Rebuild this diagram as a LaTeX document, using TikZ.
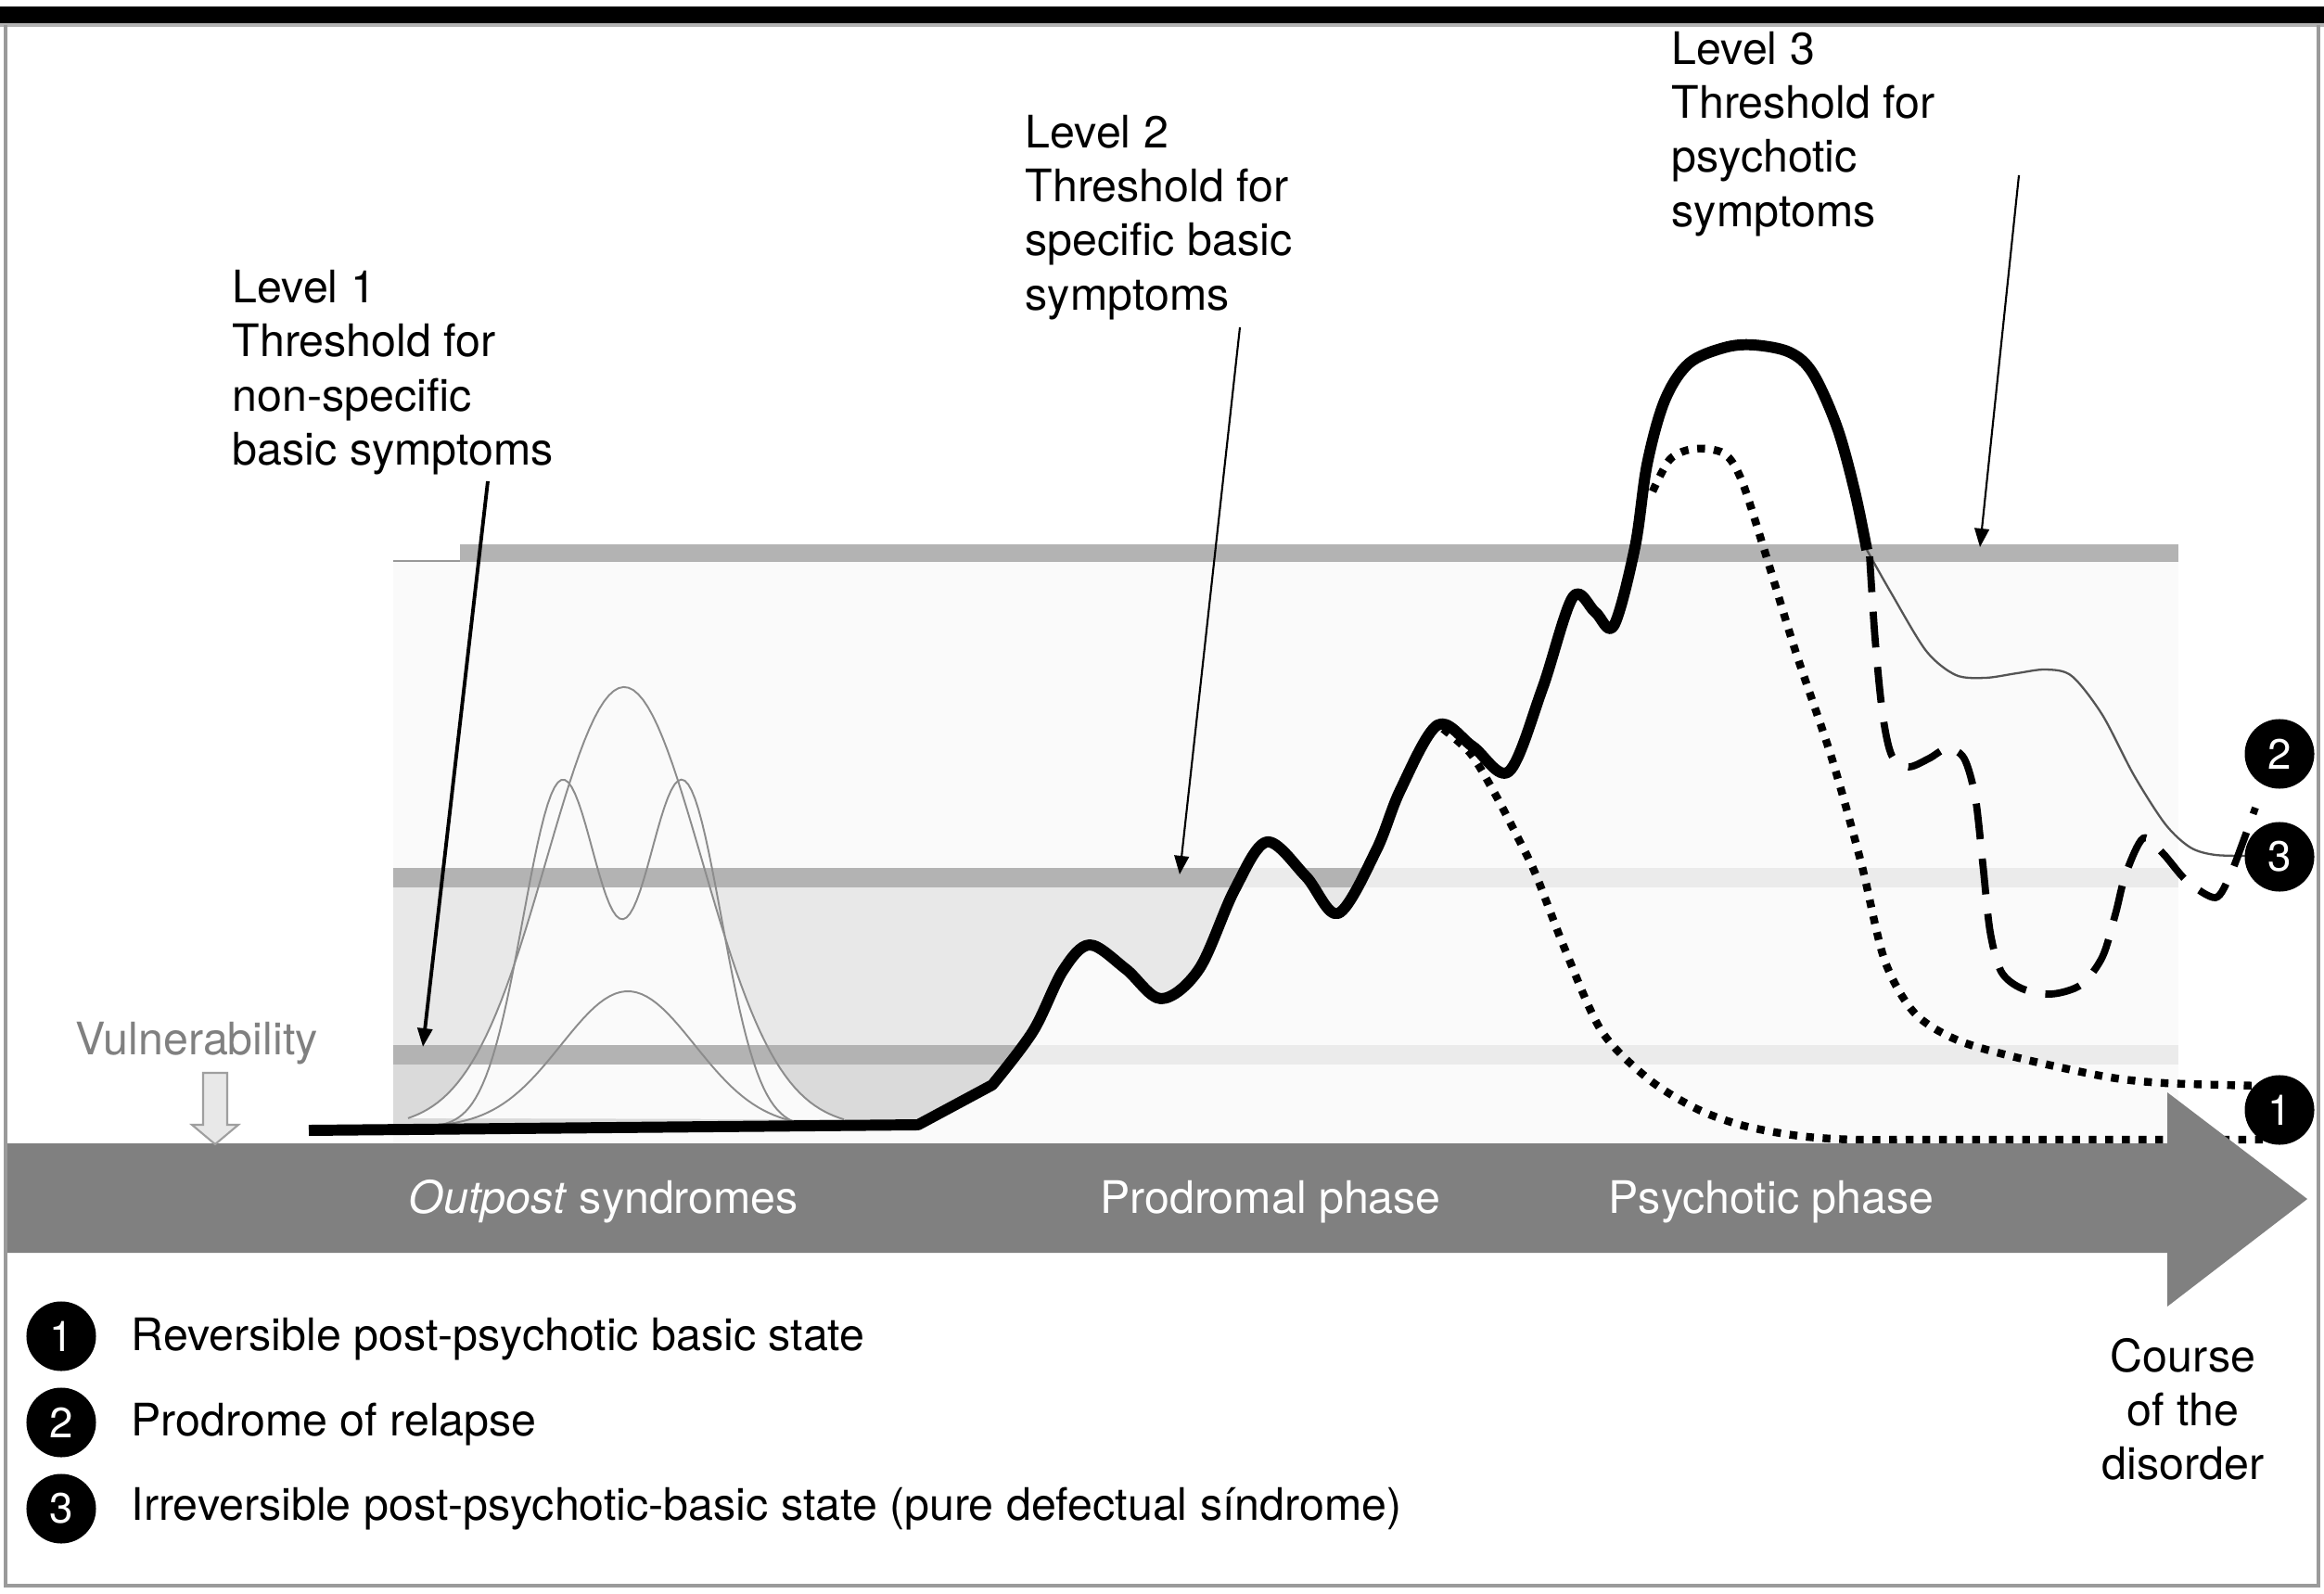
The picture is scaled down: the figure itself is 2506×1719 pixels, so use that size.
\documentclass[tikz,border=0pt]{standalone}
\usepackage{fontspec}
\setmainfont{TeX Gyre Heros}
\usetikzlibrary{arrows.meta}
\definecolor{bandDark}{HTML}{B3B3B3}
\definecolor{bandLight}{HTML}{EBEBEB}
\definecolor{zoneA}{HTML}{E8E8E8}
\definecolor{zoneB}{HTML}{DADADA}
\definecolor{paleZone}{HTML}{FAFAFA}
\definecolor{arrowGray}{HTML}{808080}
\definecolor{frameGray}{HTML}{9A9A9A}
\definecolor{bellGray}{HTML}{8C8C8C}
\definecolor{thinGray}{HTML}{555555}
\begin{document}
\begin{tikzpicture}[x=0.01cm, y=-0.01cm,
  lab/.style={font=\fontsize{13.75pt}{16.5pt}\selectfont, inner sep=0pt},
  phase/.style={lab, text=white},
  numdisc/.style={circle, fill=black, text=white, inner sep=0pt, minimum size=0.75cm, font=\fontsize{13pt}{15pt}\selectfont},
  annarrow/.style={-{Triangle[length=5.7pt,width=4.5pt]}, line width=0.6pt},
  mainline/.style={line width=3.4pt, line join=round},
  dotline/.style={line width=2.4pt, dash pattern=on 2.4pt off 2.7pt},
  dashline/.style={line width=2.2pt, dash pattern=on 11pt off 6pt},
  remline/.style={line width=0.65pt, color=thinGray},
  bell/.style={draw=bellGray, line width=0.55pt}]
\useasboundingbox (0,0) rectangle (2506,1719);
\fill[white] (0,0) rectangle (2506,1719);
\fill[black] (0,7) rectangle (2506,25);
\draw[gray!60, line width=0.9pt] (0,27) -- (2506,27);
\draw[frameGray, line width=0.9pt] (6,27) -- (6,1710) -- (2500,1710) -- (2500,27);

% background zones
\fill[paleZone] (424,605) rectangle (2349,1233);
\fill[bandLight] (424,936) rectangle (2349,957);
\fill[bandLight] (424,1127) rectangle (2349,1148);
\begin{scope}
\clip (330,1240) -- (330,1219) -- (990,1213) -- plot[smooth,tension=0.55] coordinates {(1070,1170) (1114,1112) (1146,1047) (1175,1019) (1214,1045) (1252,1077) (1293,1045) (1331,960) (1366,908) (1408,945) (1443,985) (1484,917) (1510,852) (1550,782) (1588,805) (1627,832) (1663,743) (1696,644) (1720,660) (1740,675) (1763,590) (1776,501) (1795,432) (1821,392) (1859,375) (1891,372) (1930,380) (1955,403) (1981,461) (2000,530) (2013,593)} -- (2013,300) -- (330,300) -- cycle;
\fill[zoneA] (424,957) rectangle (2349,1127);
\fill[zoneB] (424,1148) rectangle (2349,1233);
\fill[paleZone] plot[domain=440:910,samples=90] (\x,{1216-475*exp(-0.5*((\x-673)/84)^2)}) -- cycle;
\fill[bandDark] (424,936) rectangle (2349,957);
\fill[bandDark] (424,1127) rectangle (2349,1148);
\end{scope}
\fill[bandDark] (496,587) rectangle (2349,606);
\draw[bandDark!85!black, line width=0.5pt] (424,605) -- (496,605);

% dotted return to baseline (under the big arrow)
\draw[dotline] plot[smooth,tension=0.5] coordinates {(1556,786) (1586,813) (1612,856) (1635,900) (1656,943) (1688,1025) (1727,1112) (1778,1164) (1830,1196) (1880,1214) (1940,1225) (2000,1229) (2100,1229) (2440,1229)};

% big arrow
\fill[arrowGray] (8,1233) -- (2337,1233) -- (2337,1178) -- (2488,1293) -- (2337,1409) -- (2337,1351) -- (8,1351) -- cycle;

% bell curves
\draw[bell] plot[domain=440:910, samples=90] (\x,{1216-475*exp(-0.5*((\x-673)/84)^2)});
\draw[bell] plot[domain=450:890, samples=120] (\x,{1216-372*(exp(-0.5*((\x-606)/42)^2)+exp(-0.5*((\x-736)/42)^2))});
\draw[bell] plot[domain=480:875, samples=70] (\x,{1216-147*exp(-0.5*((\x-677)/72)^2)});

% dotted from the psychotic peak
\draw[dotline] plot[smooth,tension=0.5] coordinates {(1782,530) (1801,495) (1827,484) (1859,489) (1878,518) (1904,598) (1936,702) (1975,817) (2007,931) (2032,1035) (2064,1092) (2109,1121) (2173,1140) (2270,1161) (2334,1168) (2440,1171)};

% thin remainder line
\draw[remline] plot[smooth,tension=0.5] coordinates {(2013,593) (2039,639) (2077,702) (2109,728) (2141,731) (2175,726) (2206,722) (2234,729) (2267,771) (2301,836) (2335,889) (2362,914) (2389,922) (2430,923)};

% dashed relapse line
\draw[dashline] plot[smooth,tension=0.5] coordinates {(2016,600) (2022,690) (2030,770) (2040,815) (2058,827) (2080,818) (2100,807) (2118,818) (2130,860) (2138,931) (2146,1005) (2158,1048) (2180,1066) (2212,1072) (2244,1062) (2267,1032) (2281,986) (2292,943) (2311,904) (2332,920) (2358,950) (2389,968) (2405,943) (2419,907) (2432,871)};

% main course line
\draw[mainline] (333,1219) -- (990,1213) -- plot[smooth,tension=0.55] coordinates {(1070,1170) (1114,1112) (1146,1047) (1175,1019) (1214,1045) (1252,1077) (1293,1045) (1331,960) (1366,908) (1408,945) (1443,985) (1484,917) (1510,852) (1550,782) (1588,805) (1627,832) (1663,743) (1696,644) (1720,660) (1740,675) (1763,590) (1776,501) (1795,432) (1821,392) (1859,375) (1891,372) (1930,380) (1955,403) (1981,461) (2000,530) (2013,593)};

% end discs
\node[numdisc] (c2) at (2458,813) {2};
\node[numdisc] (c3) at (2458,924) {3};
\node[numdisc] (c1) at (2458,1197) {1};

% phase labels
\node[phase, anchor=base] (ph1) at (651,1308) {\textit{Outpost} syndromes};
\node[phase, anchor=base] (ph2) at (1370,1308) {Prodromal phase};
\node[phase, anchor=base] (ph3) at (1910,1308) {Psychotic phase};

% vulnerability
\node[lab, text=arrowGray, anchor=base] (vul) at (212,1137) {Vulnerability};
\draw[fill=gray!18, draw=gray!75, line width=0.6pt] (219,1157) -- (245,1157) -- (245,1213) -- (257,1213) -- (232,1234) -- (207,1213) -- (219,1213) -- cycle;

% level labels
\node[lab, anchor=north west, align=left] (lv1) at (250,291) {Level 1\\Threshold for\\non-specific\\basic symptoms};
\node[lab, anchor=north west, align=left] (lv2) at (1105,124) {Level 2\\Threshold for\\specific basic\\symptoms};
\node[lab, anchor=north west, align=left] (lv3) at (1802,34) {Level 3\\Threshold for\\psychotic\\symptoms};
\coordinate (a1s) at (526,519);
\coordinate (a1e) at (456,1129);
\coordinate (a2s) at (1337,353);
\coordinate (a2e) at (1272,943);
\coordinate (a3s) at (2177,189);
\coordinate (a3e) at (2135,590);
\draw[annarrow, line width=1.1pt] (a1s) -- (a1e);
\draw[annarrow] (a2s) -- (a2e);
\draw[annarrow] (a3s) -- (a3e);

% course label
\node[lab, anchor=north, align=center] (course) at (2354,1443) {Course\\of the\\disorder};

% legend
\node[numdisc] (k1) at (66,1441) {1};
\node[numdisc] (k2) at (66,1534) {2};
\node[numdisc] (k3) at (66,1627) {3};
\node[lab, anchor=base west] (k1t) at (141,1456) {Reversible post-psychotic basic state};
\node[lab, anchor=base west] (k2t) at (141,1548) {Prodrome of relapse};
\node[lab, anchor=base west] (k3t) at (141,1639) {Irreversible post-psychotic-basic state (pure defectual síndrome)};
\end{tikzpicture}
\end{document}
